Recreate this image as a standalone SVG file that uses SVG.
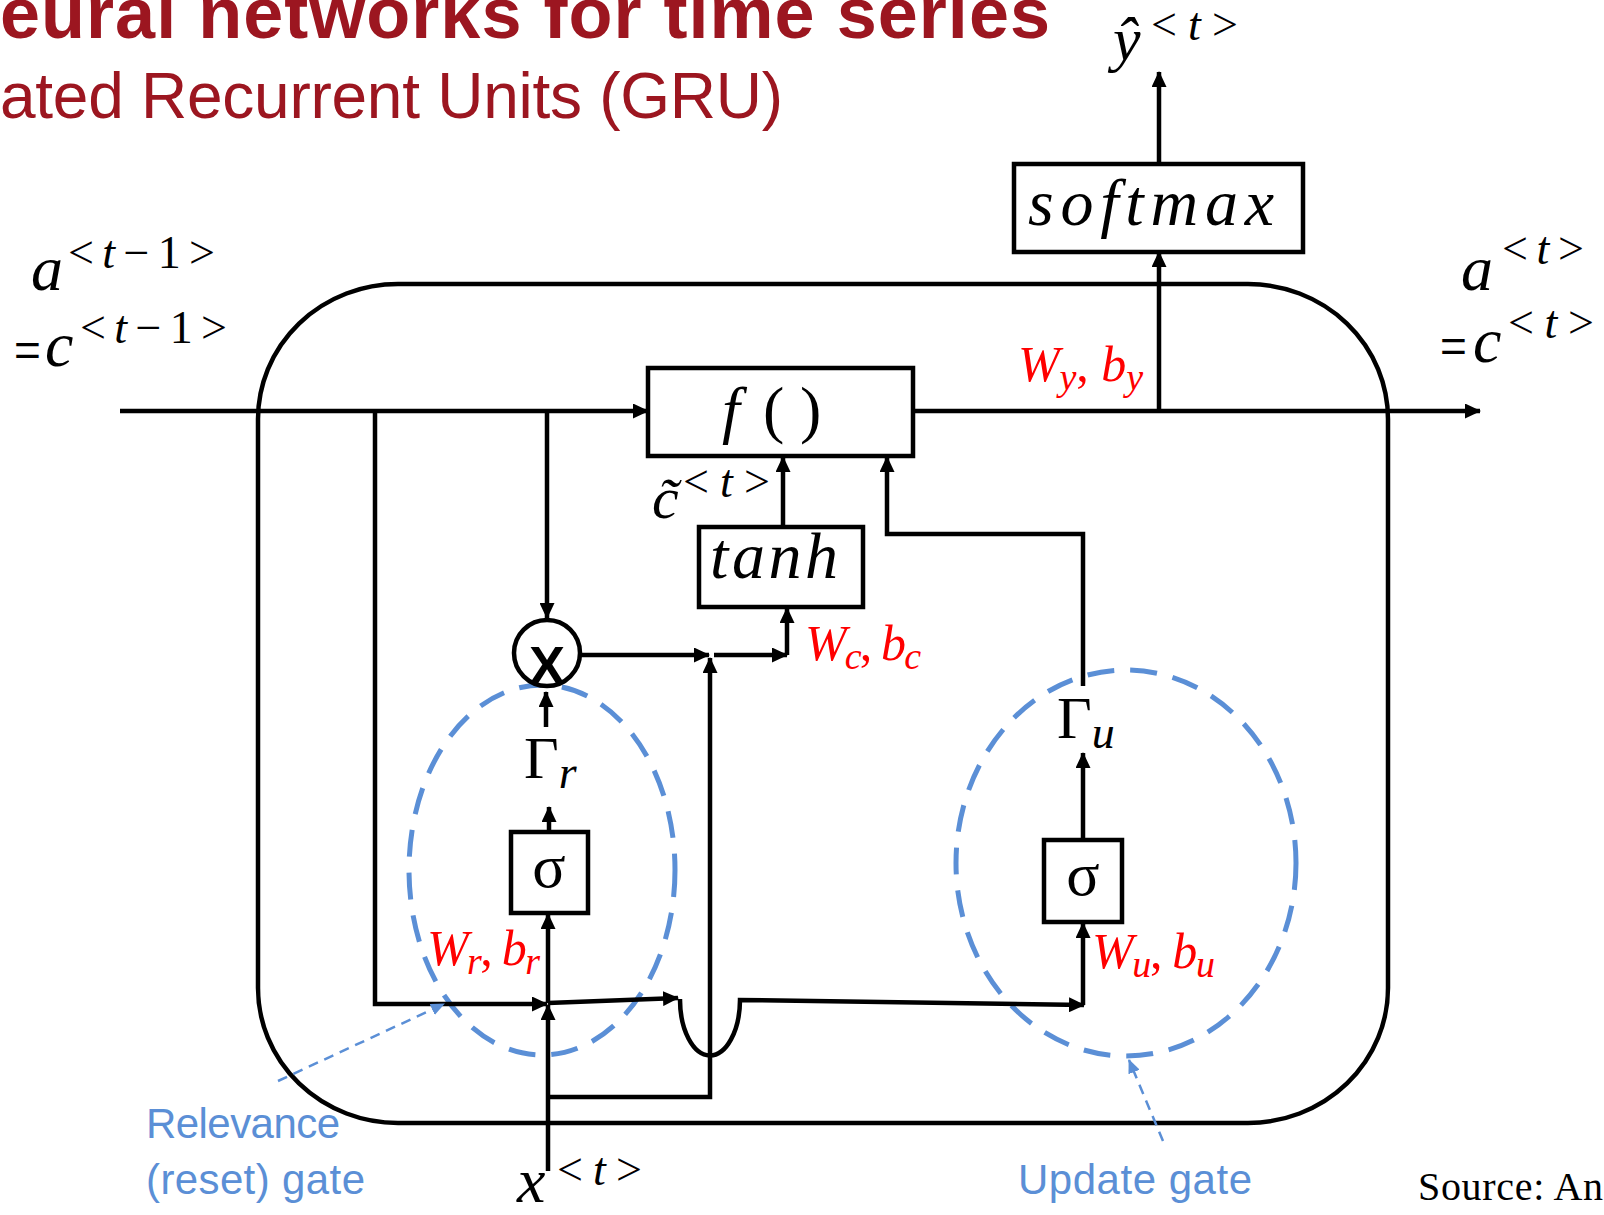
<svg xmlns="http://www.w3.org/2000/svg" width="1604" height="1215" viewBox="0 0 1604 1215">
<style>
.ln{stroke:#000;stroke-width:4.5;fill:none}
.box{fill:#fff;stroke:#000;stroke-width:4.5}
.m{font-family:"Liberation Serif",serif;fill:#000}
.i{font-style:italic}
.red{fill:#ff0000}
.gate{fill:none;stroke:#5B8FD6;stroke-width:5;stroke-dasharray:27 16}
.lead{stroke:#5B8FD6;stroke-width:2.5;stroke-dasharray:10 7;fill:none}
.lbl{font-family:"Liberation Sans",sans-serif;fill:#5B8FD6;font-size:42px}
.sup{font-size:46px}
.sub{font-size:38px;font-style:italic}
</style>
<defs>
<marker id="ah" markerUnits="userSpaceOnUse" markerWidth="16" markerHeight="15" refX="15" refY="7.5" orient="auto"><path d="M0,0 L16,7.5 L0,15 z" fill="#000"/></marker>
<marker id="ahb" markerUnits="userSpaceOnUse" markerWidth="14" markerHeight="12" refX="13" refY="6" orient="auto"><path d="M0,0 L14,6 L0,12 z" fill="#5B8FD6"/></marker>
</defs>

<g id="title" font-family="'Liberation Sans',Arial,sans-serif" fill="#9C1620">
<text x="0" y="38" font-size="72" font-weight="bold" textLength="1050">eural networks for time series</text>
<text x="0" y="118" font-size="64" textLength="783">ated Recurrent Units (GRU)</text>
</g>

<g id="cell"><rect x="258" y="284" width="1130" height="839" rx="140" ry="135" class="ln"/></g>

<g id="gates">
<ellipse id="reset-gate" cx="542" cy="870" rx="133" ry="185" class="gate"/>
<ellipse id="update-gate" cx="1126" cy="863" rx="170" ry="193" class="gate"/>
</g>

<g id="connectors">
<path class="ln" d="M120,411 H648" marker-end="url(#ah)"/>
<path class="ln" d="M913,411 H1480" marker-end="url(#ah)"/>
<path class="ln" d="M1159,411 V252" marker-end="url(#ah)"/>
<path class="ln" d="M1159,164 V72" marker-end="url(#ah)"/>
<path class="ln" d="M375,411 V1004 H547" marker-end="url(#ah)"/>
<path class="ln" d="M547,411 V618" marker-end="url(#ah)"/>
<path class="ln" d="M580,655 H709" marker-end="url(#ah)"/>
<path class="ln" d="M714,655 H787" marker-end="url(#ah)"/>
<path class="ln" d="M787,655 V608" marker-end="url(#ah)"/>
<path class="ln" d="M783,527 V457" marker-end="url(#ah)"/>
<path class="ln" d="M548,1171 V1005" marker-end="url(#ah)"/>
<path class="ln" d="M548,1003 V914" marker-end="url(#ah)"/>
<path class="ln" d="M549,832 V807" marker-end="url(#ah)"/>
<path class="ln" d="M546,727 V692" marker-end="url(#ah)"/>
<path class="ln" d="M548,1003 L678,998" marker-end="url(#ah)"/>
<path class="ln" d="M680,999 A30,56 0 0 0 740,1000 L1084,1005" marker-end="url(#ah)"/>
<path class="ln" d="M548,1097 H710 V658" marker-end="url(#ah)"/>
<path class="ln" d="M1083,1005 V923" marker-end="url(#ah)"/>
<path class="ln" d="M1083,840 V753" marker-end="url(#ah)"/>
<path class="ln" d="M1083,686 V534 H887 V457" marker-end="url(#ah)"/>
<path class="lead" d="M278,1081 L444,1004" marker-end="url(#ahb)"/>
<path class="lead" d="M1163,1141 L1129,1060" marker-end="url(#ahb)"/>
</g>

<g id="f-box">
<rect class="box" x="648" y="368" width="265" height="88"/>
<text class="m" font-size="64"><tspan x="722" y="431" class="i">f</tspan><tspan x="763">(</tspan><tspan x="800">)</tspan></text>
</g>

<g id="tanh-box">
<rect class="box" x="699" y="527" width="164" height="80"/>
<text class="m i" x="710" y="578" font-size="66" textLength="128">tanh</text>
</g>

<g id="softmax-box">
<rect class="box" x="1014" y="164" width="289" height="88"/>
<text class="m i" x="1028" y="225" font-size="66" textLength="246">softmax</text>
</g>

<g id="sigma-r">
<rect class="box" x="511" y="832" width="77" height="81"/>
<text class="m" x="549" y="887" font-size="62" text-anchor="middle">σ</text>
</g>

<g id="sigma-u">
<rect class="box" x="1044" y="840" width="78" height="82"/>
<text class="m" x="1083" y="895" font-size="62" text-anchor="middle">σ</text>
</g>

<g id="multiply">
<circle cx="547" cy="653" r="33" fill="#fff" stroke="#000" stroke-width="4.5"/>
<text x="547" y="684" font-family="'Liberation Sans',Arial,sans-serif" font-weight="bold" font-size="54" text-anchor="middle">X</text>
</g>

<g id="gamma-r"><text class="m" x="524" y="778" font-size="60">Γ<tspan class="i" font-size="46" dy="10">r</tspan></text></g>
<g id="gamma-u"><text class="m" x="1057" y="738" font-size="60">Γ<tspan class="i" font-size="46" dy="10">u</tspan></text></g>

<g id="c-tilde">
<text class="m i" x="652" y="518" font-size="60">c̃</text>
<text class="m sup" x="683" y="497" textLength="87">&lt;<tspan class="i">t</tspan>&gt;</text>
</g>

<g id="params" class="m red" font-size="50">
<text x="805" y="660" textLength="116"><tspan class="i">W</tspan><tspan class="sub" dy="9">c</tspan><tspan dy="-9">, </tspan><tspan class="i">b</tspan><tspan class="sub" dy="9">c</tspan></text>
<text x="427" y="965" textLength="113"><tspan class="i">W</tspan><tspan class="sub" dy="9">r</tspan><tspan dy="-9">, </tspan><tspan class="i">b</tspan><tspan class="sub" dy="9">r</tspan></text>
<text x="1092" y="968" textLength="123"><tspan class="i">W</tspan><tspan class="sub" dy="9">u</tspan><tspan dy="-9">, </tspan><tspan class="i">b</tspan><tspan class="sub" dy="9">u</tspan></text>
<text x="1018" y="381" textLength="125"><tspan class="i">W</tspan><tspan class="sub" dy="9">y</tspan><tspan dy="-9">, </tspan><tspan class="i">b</tspan><tspan class="sub" dy="9">y</tspan></text>
</g>

<g id="input-a">
<text class="m i" x="31" y="290" font-size="64">a</text>
<text class="m sup" x="68" y="268" textLength="147">&lt;<tspan class="i">t</tspan>−1&gt;</text>
<text x="14" y="366" font-family="'Liberation Sans',Arial,sans-serif" font-size="46">=</text>
<text class="m i" x="45" y="366" font-size="64">c</text>
<text class="m sup" x="80" y="343" textLength="147">&lt;<tspan class="i">t</tspan>−1&gt;</text>
</g>

<g id="output-a">
<text class="m i" x="1461" y="290" font-size="64">a</text>
<text class="m sup" x="1502" y="264" textLength="82">&lt;<tspan class="i">t</tspan>&gt;</text>
<text x="1440" y="362" font-family="'Liberation Sans',Arial,sans-serif" font-size="46">=</text>
<text class="m i" x="1473" y="362" font-size="64">c</text>
<text class="m sup" x="1508" y="338" textLength="86">&lt;<tspan class="i">t</tspan>&gt;</text>
</g>

<g id="output-y">
<text class="m i" x="1113" y="60" font-size="62">ŷ</text>
<text class="m sup" x="1151" y="40" textLength="87">&lt;<tspan class="i">t</tspan>&gt;</text>
</g>

<g id="input-x">
<text class="m i" x="517" y="1202" font-size="64">x</text>
<text class="m sup" x="557" y="1185" textLength="85">&lt;<tspan class="i">t</tspan>&gt;</text>
</g>

<g id="gate-labels" class="lbl">
<text x="146" y="1138" textLength="194">Relevance</text>
<text x="146" y="1194" textLength="219">(reset) gate</text>
<text x="1018" y="1194" textLength="234">Update gate</text>
</g>

<g id="source"><text class="m" x="1418" y="1200" font-size="40" textLength="185">Source: An</text></g>
</svg>
